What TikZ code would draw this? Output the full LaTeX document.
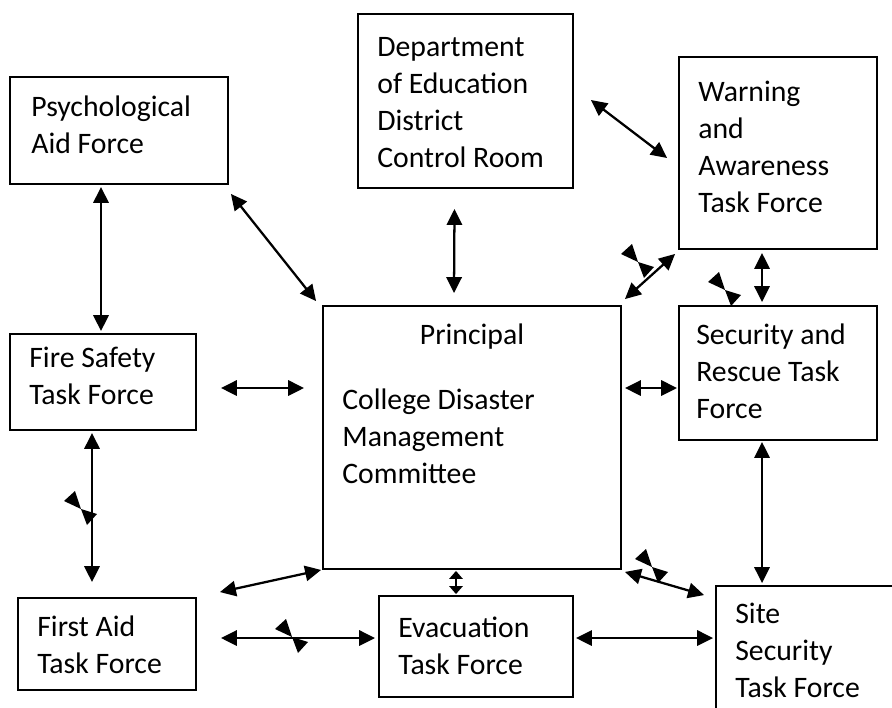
\documentclass[tikz,border=0pt]{standalone}
\usepackage{fontspec}
\setmainfont{Carlito}
\usetikzlibrary{arrows.meta,calc,fit}
\newcommand{\boxfont}{\fontsize{22.3pt}{27.75pt}\selectfont}
\tikzset{
  box/.style={draw, line width=1.4pt, inner sep=0pt},
  txt/.style={anchor=north west, align=left, inner sep=0pt, font=\boxfont},
  link/.style={line width=1.7pt, {Triangle[length=12pt,width=11.5pt]}-{Triangle[length=12pt,width=11.5pt]}},
  shortlink/.style={line width=1.7pt, {Triangle[length=6pt,width=10pt]}-{Triangle[length=6pt,width=10pt]}},
  bowtie/.pic={
    \fill (0,0) -- (-17,-8) -- (-6,-18) -- cycle;
    \fill (0,0) -- (16,5) -- (6,16) -- cycle;
  }
}

\begin{document}
\begin{tikzpicture}[x=0.75pt,y=-0.75pt]
\useasboundingbox (0,0) rectangle (892,707);

% boxes
\node[box, fit={(10,77) (228,184)}] (psych) {};
\node[box, fit={(358,14) (573,188)}] (dept) {};
\node[box, fit={(679,57) (877,249)}] (warn) {};
\node[box, fit={(323,306) (621,569)}] (prin) {};
\node[box, fit={(10,334) (196,430)}] (fire) {};
\node[box, fit={(679,306) (877,440)}] (sec) {};
\node[box, fit={(18,598) (196,690)}] (first) {};
\node[box, fit={(379,596) (573,697)}] (evac) {};
\node[box, fit={(716,586) (900,720)}] (site) {};

% texts
\node[txt] (psychtxt) at ($(psych.north west)+(22,20)$) {Psychological\\Aid Force};
\node[txt] (depttxt) at ($(dept.north west)+(20,24)$) {Department\\of Education\\District\\Control Room};
\node[txt] (warntxt) at ($(warn.north west)+(20,25)$) {Warning\\and\\Awareness\\Task Force};
\node[txt, anchor=north] (printop) at ($(prin.north)+(0,19)$) {Principal};
\node[txt] (printxt) at ($(prin.north west)+(20,84)$) {College Disaster\\Management\\Committee};
\node[txt] (firetxt) at ($(fire.north west)+(20,14)$) {Fire Safety\\Task Force};
\node[txt] (sectxt) at ($(sec.north west)+(18,19)$) {Security and\\Rescue Task\\Force};
\node[txt] (firsttxt) at ($(first.north west)+(20,19)$) {First Aid\\Task Force};
\node[txt] (evactxt) at ($(evac.north west)+(20,22)$) {Evacuation\\Task Force};
\node[txt] (sitetxt) at ($(site.north west)+(20,18)$) {Site\\Security\\Task Force};

% links
\draw[link] ($(fire.north |- psych.south)+(-2,2)$) -- ($(fire.north)+(-2,-2)$);
\draw[link] ($(psych.south east)+(2,9)$) -- ($(prin.north west)+(-6,-4)$);
\draw[link] ($(dept.south)+(-11,20)$) -- ($(prin.north)+(-18,-12)$);
\draw[link] ($(dept.east)+(17,-1)$) -- ($(warn.west)+(-11,5)$);
\draw[link] ($(warn.south west)+(-3,4)$) -- ($(prin.north east)+(3,-6)$);
\draw[link] ($(warn.south)+(-16,3)$) -- ($(sec.north)+(-16,-3)$);
\draw[link] ($(fire.east)+(24,6)$) -- ($(fire.east -| prin.west)+(-18,6)$);
\draw[link] ($(prin.east |- sec.west)+(3,15)$) -- ($(sec.west)+(-1,15)$);
\draw[link] ($(fire.south)+(-11,2)$) -- ($(first.north)+(-15,-15)$);
\draw[link] ($(sec.south)+(-16,1)$) -- ($(sec.south |- site.north)+(-16,-2)$);
\draw[link] ($(prin.south west)+(-1,0)$) -- ($(first.north east)+(23,-5)$);
\draw[shortlink] ($(prin.south)+(-16,1)$) -- ($(evac.north)+(-20,-1)$);
\draw[link] ($(prin.south east)+(3,2)$) -- ($(site.north west)+(-11,10)$);
\draw[link] ($(first.east)+(24,-6)$) -- ($(evac.west)+(-3,-8.5)$);
\draw[link] ($(evac.east)+(2,-8.5)$) -- ($(evac.east -| site.west)+(-2,-8.5)$);

% stray marks
\pic at (638,262) {bowtie};
\pic at (725,290) {bowtie};
\pic at (81,509) {bowtie};
\pic at (292,637) {bowtie};
\pic at (652,567) {bowtie};

\end{tikzpicture}
\end{document}
